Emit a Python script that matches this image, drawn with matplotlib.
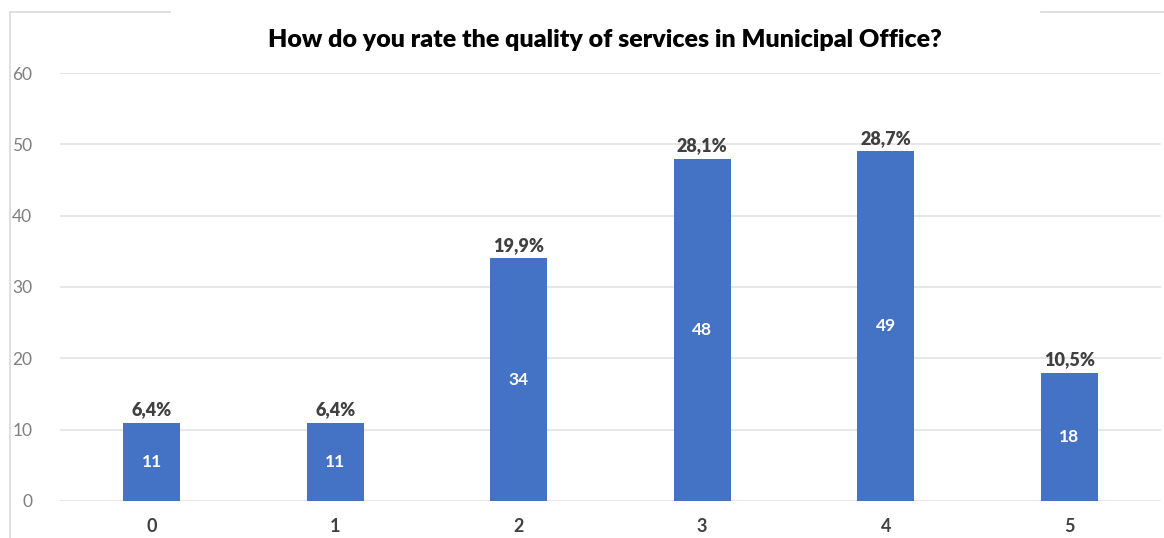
import matplotlib
matplotlib.use("Agg")
import matplotlib.pyplot as plt
from matplotlib.lines import Line2D

plt.rcParams['font.family'] = ['Lato', 'DejaVu Sans']

# survey answers
ratings = ['0', '1', '2', '3', '4', '5']
counts = [11, 11, 34, 48, 49, 18]
shares = ['6,4%', '6,4%', '19,9%', '28,1%', '28,7%', '10,5%']
y_ticks = [0, 10, 20, 30, 40, 50, 60]

bar_color = '#4472C4'
grid_color = '#E3E3E3'

fig = plt.figure(figsize=(11.64, 5.38), dpi=100)
ax = fig.add_axes([0.0515, 0.0688, 0.9459, 0.7955])

x = range(len(ratings))
bars = ax.bar(x, counts, width=0.31, color=bar_color, zorder=3)

for b, n, pct in zip(bars, counts, shares):
    cx = b.get_x() + b.get_width() / 2
    ax.text(cx, n / 2, str(n), ha='center', va='center', color='white',
            fontsize=12.5, fontweight='bold', zorder=4)
    ax.text(cx, n + 0.6, pct, ha='center', va='bottom', color='#404040',
            fontsize=13, fontweight='heavy', zorder=4)

ax.set_xlim(-0.5, len(ratings) - 0.5)
ax.set_ylim(0, 60)
ax.set_yticks(y_ticks)
ax.set_xticks(list(x))
ax.set_xticklabels(ratings, fontsize=13, fontweight='bold', color='#404040')
ax.tick_params(axis='y', labelsize=12.5, labelcolor='#7F7F7F', length=0, pad=20)
ax.tick_params(axis='x', length=0, pad=12)
ax.grid(axis='y', color=grid_color, linewidth=1.2, zorder=0)
for s in ax.spines.values():
    s.set_visible(False)

fig.text(0.52, 0.925, 'How do you rate the quality of services in Municipal Office?',
         ha='center', va='center', fontsize=18, fontweight='heavy', color='black')

# outer chart frame fragments
frame = '#D9D9D9'
fig.add_artist(Line2D([0.009, 0.009], [0.0, 0.978], color=frame, lw=1.2))
fig.add_artist(Line2D([0.009, 0.146], [0.978, 0.978], color=frame, lw=1.2))
fig.add_artist(Line2D([0.894, 1.0], [0.978, 0.978], color=frame, lw=1.2))

fig.savefig('out.png', dpi=100)
